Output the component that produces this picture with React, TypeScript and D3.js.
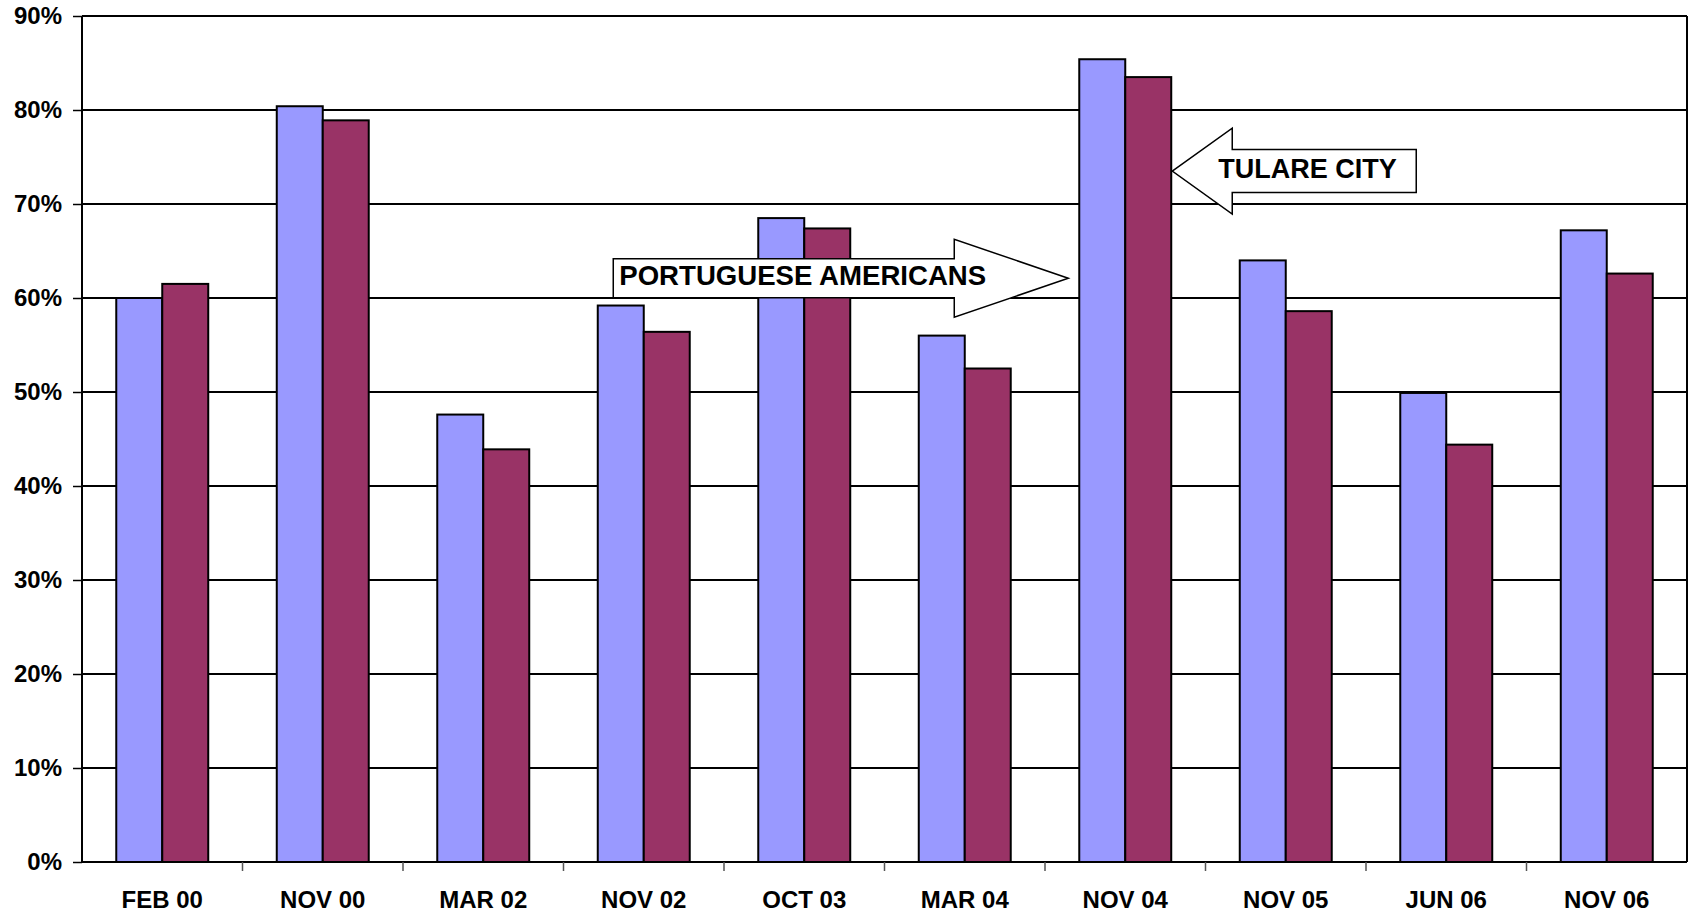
import { useEffect, useRef } from "react";
import * as d3 from "d3";

const categories = ["FEB 00", "NOV 00", "MAR 02", "NOV 02", "OCT 03", "MAR 04", "NOV 04", "NOV 05", "JUN 06", "NOV 06"];
const portugueseAmericans = [60.0, 80.4, 47.6, 59.2, 68.5, 56.0, 85.4, 64.0, 49.9, 67.2];
const tulareCity = [61.5, 78.9, 43.9, 56.4, 67.4, 52.5, 83.5, 58.6, 44.4, 62.6];
const yTicks = [0, 10, 20, 30, 40, 50, 60, 70, 80, 90];

const W = 1688;
const H = 916;
const FONT = "'Liberation Sans', Arial, sans-serif";

export default function App() {
  const svgRef = useRef<SVGSVGElement>(null);

  useEffect(() => {
    const svg = d3.select(svgRef.current);
    svg.selectAll("*").remove();

    const margin = { top: 16, right: 1, bottom: 54, left: 82 };

    const x = d3
      .scaleBand()
      .domain(categories)
      .range([margin.left, W - margin.right]);

    const xs = d3
      .scaleBand()
      .domain(["pa", "tc"])
      .range([0, x.bandwidth()])
      .paddingInner(0)
      .paddingOuter(0.745);

    const y = d3
      .scaleLinear()
      .domain([0, 90])
      .range([H - margin.bottom, margin.top]);

    svg.append("rect").attr("width", W).attr("height", H).attr("fill", "#fff");

    // gridlines
    svg
      .append("g")
      .selectAll("line")
      .data(yTicks.filter((t) => t > 0))
      .join("line")
      .attr("x1", margin.left)
      .attr("x2", W - margin.right)
      .attr("y1", (d) => y(d))
      .attr("y2", (d) => y(d))
      .attr("stroke", "#000")
      .attr("stroke-width", 2);

    // right border
    svg
      .append("line")
      .attr("x1", W - margin.right)
      .attr("x2", W - margin.right)
      .attr("y1", y(90))
      .attr("y2", y(0))
      .attr("stroke", "#000")
      .attr("stroke-width", 2);

    // bars
    const rows = categories.map((c, i) => ({ c, pa: portugueseAmericans[i], tc: tulareCity[i] }));
    const groups = svg
      .append("g")
      .selectAll("g")
      .data(rows)
      .join("g")
      .attr("transform", (d) => `translate(${x(d.c)},0)`);

    groups
      .selectAll("rect")
      .data((d) => [
        { k: "pa", v: d.pa, color: "#9999FF" },
        { k: "tc", v: d.tc, color: "#993366" },
      ])
      .join("rect")
      .attr("x", (d) => xs(d.k) || 0)
      .attr("width", xs.bandwidth())
      .attr("y", (d) => y(d.v))
      .attr("height", (d) => y(0) - y(d.v))
      .attr("fill", (d) => d.color)
      .attr("stroke", "#000")
      .attr("stroke-width", 2);

    // y axis
    const ya = svg.append("g").attr("transform", `translate(${margin.left},0)`);
    ya.call(d3.axisLeft(y).tickValues(yTicks).tickSize(9).tickPadding(11).tickFormat((d) => `${d}%`));
    ya.select(".domain").attr("stroke", "#000").attr("stroke-width", 2).attr("d", `M0,${y(90)}V${y(0)}`);
    ya.selectAll(".tick line").attr("stroke", "#000").attr("stroke-width", 1.5);
    ya.selectAll(".tick text")
      .attr("font-family", FONT)
      .attr("font-weight", "bold")
      .attr("font-size", 24)
      .attr("fill", "#000");

    // x axis
    const xa = svg.append("g").attr("transform", `translate(0,${y(0)})`);
    xa.call(d3.axisBottom(x).tickSize(0).tickPadding(0));
    xa.select(".domain").attr("stroke", "#000").attr("stroke-width", 2).attr("d", `M${margin.left},0H${W - margin.right}`);
    xa.selectAll(".tick text")
      .attr("font-family", FONT)
      .attr("font-weight", "bold")
      .attr("font-size", 24)
      .attr("fill", "#000")
      .attr("dy", null)
      .attr("y", 46);
    xa.selectAll(".sep")
      .data(categories.slice(1))
      .join("line")
      .attr("class", "sep")
      .attr("x1", (d) => x(d) || 0)
      .attr("x2", (d) => x(d) || 0)
      .attr("y1", 0)
      .attr("y2", 9)
      .attr("stroke", "#555")
      .attr("stroke-width", 1.5);

    // annotation arrows
    const drawArrow = (
      tipX: number,
      tipY: number,
      dir: 1 | -1,
      headLen: number,
      bodyLen: number,
      bodyHalf: number,
      headHalf: number,
      label: string,
      fontSize: number
    ) => {
      const baseX = tipX - dir * headLen;
      const endX = baseX - dir * bodyLen;
      const pts: [number, number][] = [
        [tipX, tipY],
        [baseX, tipY - headHalf],
        [baseX, tipY - bodyHalf],
        [endX, tipY - bodyHalf],
        [endX, tipY + bodyHalf],
        [baseX, tipY + bodyHalf],
        [baseX, tipY + headHalf],
      ];
      svg
        .append("path")
        .attr("d", d3.line()(pts) + "Z")
        .attr("fill", "#fff")
        .attr("stroke", "#000")
        .attr("stroke-width", 1.5);
      const tx = dir === 1 ? endX + 6 : baseX - 14;
      svg
        .append("text")
        .attr("x", tx)
        .attr("y", tipY + 7)
        .attr("font-family", FONT)
        .attr("font-weight", "bold")
        .attr("font-size", fontSize)
        .attr("fill", "#000")
        .text(label);
    };

    // PORTUGUESE AMERICANS, pointing right toward NOV 04 light bar
    const paTipX = (x("NOV 04") || 0) + (xs("pa") || 0) - 11;
    drawArrow(paTipX, y(62.1), 1, 114, 341, 19.5, 39, "PORTUGUESE AMERICANS", 27.6);

    // TULARE CITY, pointing left at NOV 04 dark bar
    const tcTipX = (x("NOV 04") || 0) + (xs("tc") || 0) + xs.bandwidth() + 1;
    drawArrow(tcTipX, y(73.5), -1, 60, 184, 21.5, 43, "TULARE CITY", 27);
  }, []);

  return (
    <svg
      ref={svgRef}
      width={W}
      height={H}
      style={{ position: "absolute", left: 0, top: 0, display: "block" }}
    />
  );
}
